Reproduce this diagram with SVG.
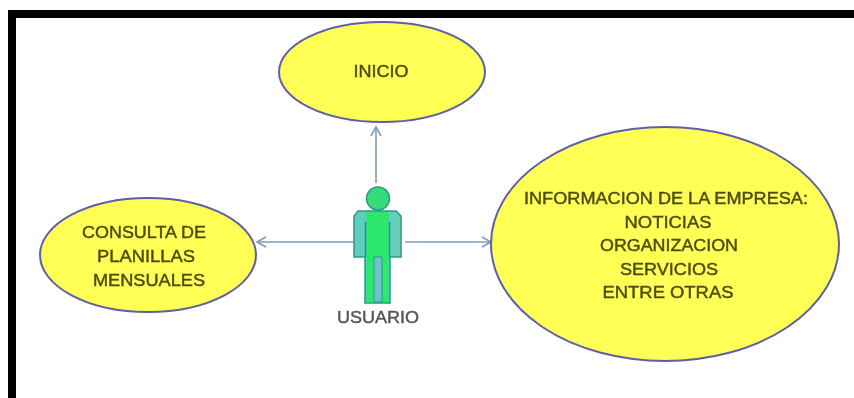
<svg xmlns="http://www.w3.org/2000/svg" width="854" height="398" viewBox="0 0 854 398">
<style>
.uc{fill:#ffff55;stroke:#5f5fa8;stroke-width:2}
.t{font-family:"Liberation Sans",Arial,sans-serif;font-size:16px;fill:#4c4c10;text-anchor:middle;stroke:#4c4c10;stroke-width:.4}
.c{fill:none;stroke:#7f9ab8;stroke-width:1.6}
</style>
<defs>
<filter id="b" x="-5%" y="-5%" width="110%" height="110%"><feGaussianBlur stdDeviation="0.7"/></filter>
<linearGradient id="g" x1="0" x2="1" y1="0" y2="0"><stop offset="0" stop-color="#5ccfb8"/><stop offset=".24" stop-color="#5ccfc0"/><stop offset=".28" stop-color="#2ce86c"/><stop offset=".72" stop-color="#2ce86c"/><stop offset=".76" stop-color="#5ccfc0"/><stop offset="1" stop-color="#6acdb0"/></linearGradient>
<marker id="a" markerWidth="14" markerHeight="14" refX="12" refY="7" orient="auto" markerUnits="userSpaceOnUse"><path d="M3 2 L12 7 L3 12" fill="none" stroke="#7f9ab8" stroke-width="1.6"/></marker>
</defs>
<rect width="854" height="398" fill="#fff"/>
<path d="M8 398V10H854V18H16V398Z" fill="#000"/>
<g filter="url(#b)">
<g id="connectors">
<line class="c" x1="376" y1="183" x2="376" y2="127" marker-end="url(#a)"/>
<line class="c" x1="354" y1="242" x2="257" y2="242" marker-end="url(#a)"/>
<line class="c" x1="405" y1="242" x2="491" y2="242" marker-end="url(#a)"/>
</g>
<g id="inicio">
<ellipse class="uc" cx="382" cy="72" rx="103" ry="50"/>
<text class="t" x="381" y="77" textLength="55" lengthAdjust="spacingAndGlyphs">INICIO</text>
</g>
<g id="consulta">
<ellipse class="uc" cx="148" cy="255" rx="108" ry="57"/>
<text class="t" x="144" y="238" textLength="124" lengthAdjust="spacingAndGlyphs">CONSULTA DE</text>
<text class="t" x="146" y="262" textLength="98" lengthAdjust="spacingAndGlyphs">PLANILLAS</text>
<text class="t" x="149" y="286" textLength="112" lengthAdjust="spacingAndGlyphs">MENSUALES</text>
</g>
<g id="informacion">
<ellipse class="uc" cx="665" cy="244" rx="174" ry="117"/>
<text class="t" x="666" y="204" textLength="284" lengthAdjust="spacingAndGlyphs">INFORMACION DE LA EMPRESA:</text>
<text class="t" x="668" y="228" textLength="87" lengthAdjust="spacingAndGlyphs">NOTICIAS</text>
<text class="t" x="669" y="251" textLength="138" lengthAdjust="spacingAndGlyphs">ORGANIZACION</text>
<text class="t" x="669" y="275" textLength="98" lengthAdjust="spacingAndGlyphs">SERVICIOS</text>
<text class="t" x="668" y="298" textLength="131" lengthAdjust="spacingAndGlyphs">ENTRE OTRAS</text>
</g>
<g id="usuario">
<circle cx="378" cy="198.500" r="11.500" fill="#35dc78" stroke="#2a9a88" stroke-width="1.500"/>
<path d="M358 211H396L401 216V257H390V303H365V257H354V216Z" fill="url(#g)" stroke="#2a9a88" stroke-width="1.500"/>
<path d="M365.500 222V257M389.500 222V257" stroke="#2a8a9a" stroke-width="1.500" fill="none"/>
<rect x="374" y="257" width="8" height="45" fill="#6cc4c8" stroke="#2a9a88"/>
<text class="t" x="378" y="323" textLength="82" lengthAdjust="spacingAndGlyphs" style="fill:#555;stroke:#555">USUARIO</text>
</g>
</g>
</svg>
